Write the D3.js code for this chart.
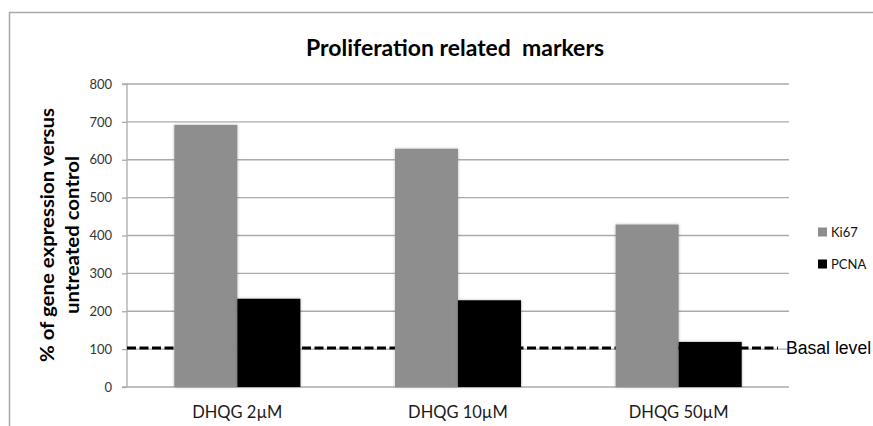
<!DOCTYPE html>
<html><head><meta charset="utf-8">
<script src="https://cdn.jsdelivr.net/npm/d3@7"></script>
<style>
html,body{margin:0;padding:0;background:#fff;overflow:hidden}
svg{display:block}
</style></head>
<body>
<svg id="chart" width="873" height="426"></svg>
<script>
const categories = ["DHQG 2µM", "DHQG 10µM", "DHQG 50µM"];
const seriesNames = ["Ki67", "PCNA"];
const ki67 = [692, 629, 429];
const pcna = [233, 229, 119];
const basalLevel = [103];
const basalLabel = ["Basal level"];
const yTicks = [0, 100, 200, 300, 400, 500, 600, 700, 800];
const titleText = ["Proliferation related  markers"];
const yLabelLines = ["% of gene expression versus", "untreated control"];

(function(){
const colors = {Ki67: "#8e8e8e", PCNA: "#000000"};
const svg = d3.select("#chart");
const font = "Lato, 'Open Sans', sans-serif";

const pL = 127, pR = 789, pT = 84, pB = 387;

const x0 = d3.scaleBand().domain(categories).range([pL, pR]).paddingInner(0).paddingOuter(0);
const y = d3.scaleLinear().domain([0, 800]).range([pB, pT]);

const defs = svg.append("defs");
const f = defs.append("filter").attr("id","sh").attr("x","-20%").attr("y","-20%").attr("width","140%").attr("height","140%");
f.append("feDropShadow").attr("dx",0).attr("dy",0).attr("stdDeviation",1.4).attr("flood-color","#000").attr("flood-opacity",0.28);

// outer border
svg.append("line").attr("x1",9).attr("x2",873).attr("y1",12.5).attr("y2",12.5).attr("stroke","#a9a9a9").attr("stroke-width",1.5);
svg.append("line").attr("x1",9.5).attr("x2",9.5).attr("y1",12).attr("y2",426).attr("stroke","#a9a9a9").attr("stroke-width",1.5);

// gridlines
svg.append("g").selectAll("line").data(yTicks.filter(d=>d>0)).join("line")
  .attr("x1", pL).attr("x2", pR)
  .attr("y1", d=>y(d)).attr("y2", d=>y(d))
  .attr("stroke","#ababab").attr("stroke-width",1.3);

// y axis
const yAxis = d3.axisLeft(y).tickValues(yTicks).tickSize(5).tickPadding(10).tickFormat(d3.format("d"));
const ya = svg.append("g").attr("transform",`translate(${pL},0)`).call(yAxis);
ya.select(".domain").attr("stroke","#ababab").attr("stroke-width",1.3).attr("d",`M-5,${pT}H0V${pB}`);
ya.selectAll(".tick line").attr("stroke","#ababab").attr("stroke-width",1.3);
ya.selectAll(".tick text").attr("fill","#333").style("font-family",font).style("font-size","13px");

// x axis baseline
svg.append("line").attr("x1",pL-5).attr("x2",pR).attr("y1",pB).attr("y2",pB).attr("stroke","#ababab").attr("stroke-width",1.3);

// basal dashed line (behind bars)
svg.append("line").attr("x1",pL).attr("x2",778)
  .attr("y1",y(basalLevel[0])).attr("y2",y(basalLevel[0]))
  .attr("stroke","#000").attr("stroke-width",3).attr("stroke-dasharray","9,3.5");

// bars
const bw = x0.bandwidth() / 3.5;
const x1 = d3.scaleBand().domain(seriesNames).range([0, bw*2]);
const rows = categories.map((c,i)=>({c, vals:[{s:"Ki67", v:ki67[i]},{s:"PCNA", v:pcna[i]}]}));
const g = svg.append("g").selectAll("g").data(rows).join("g")
  .attr("transform", d=>`translate(${x0(d.c) + x0.bandwidth()/2 - bw},0)`);
g.selectAll("rect").data(d=>d.vals).join("rect")
  .attr("x", d=>x1(d.s)).attr("width", x1.bandwidth())
  .attr("y", d=>y(d.v)).attr("height", d=>pB - y(d.v))
  .attr("fill", d=>colors[d.s]).attr("filter","url(#sh)");

// category labels
svg.append("g").selectAll("text").data(categories).join("text")
  .attr("x", d=>x0(d)+x0.bandwidth()/2).attr("y", 418)
  .attr("text-anchor","middle").attr("fill","#1a1a1a")
  .style("font-family",font).style("font-size","16.5px").text(d=>d);

// basal label
svg.append("text").attr("x",786).attr("y",354).attr("fill","#000")
  .style("font-family","'Liberation Sans', Arial, sans-serif").style("font-size","17.6px").text(basalLabel[0]);

// legend
const lg = svg.append("g").selectAll("g").data(seriesNames).join("g")
  .attr("transform",(d,i)=>`translate(818,${232 + i*32})`);
lg.append("rect").attr("x",0).attr("y",-4.5).attr("width",9).attr("height",9).attr("fill",d=>colors[d]);
lg.append("text").attr("x",13).attr("y",4.5).attr("fill","#111")
  .style("font-family",font).style("font-size","13px").text(d=>d);

// title
svg.append("text").attr("x",455).attr("y",56).attr("text-anchor","middle")
  .style("font-family",font).style("font-weight","bold").style("font-size","23px").attr("fill","#000")
  .style("white-space","pre").attr("textLength",298).attr("lengthAdjust","spacingAndGlyphs")
  .text(titleText[0]);

// y label
const ylT = yLabelLines.map((line,i)=> svg.append("text")
    .attr("transform",`translate(${54 + i*25},235) rotate(-90)`)
    .attr("text-anchor","middle").style("font-family",font).style("font-weight","bold")
    .style("font-size","19px").attr("fill","#000").text(line));
const k = 254 / ylT[0].node().getComputedTextLength();
ylT.forEach(tt=>{
  const w = tt.node().getComputedTextLength();
  tt.attr("textLength", w*k).attr("lengthAdjust","spacingAndGlyphs");
});
})();
</script>
</body></html>
